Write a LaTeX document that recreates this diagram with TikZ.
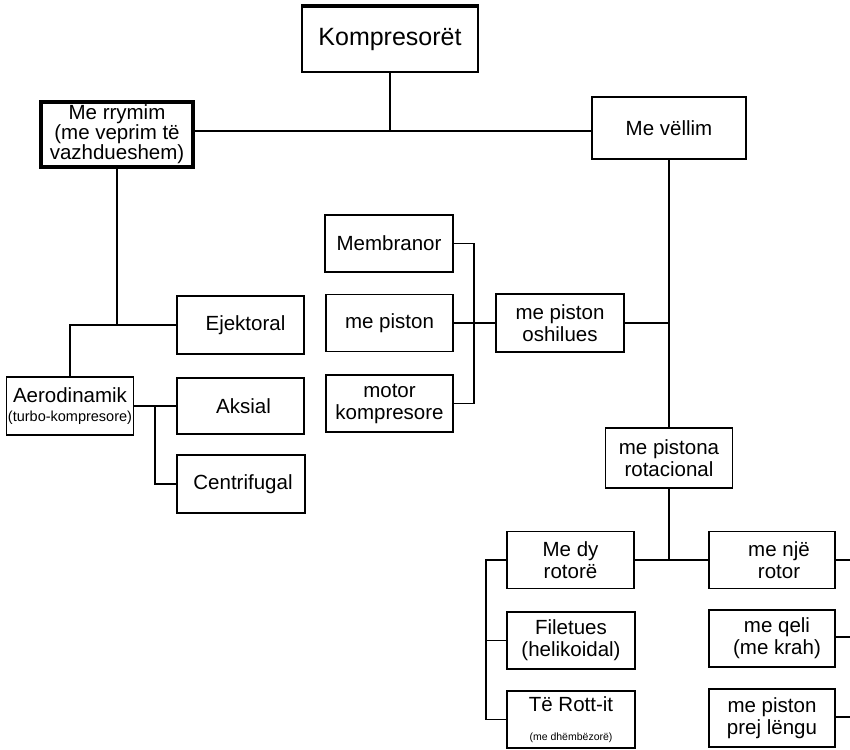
\documentclass[tikz,border=0pt]{standalone}
\usepackage{fontspec}
\setmainfont{Liberation Sans}
\begin{document}
\begin{tikzpicture}[x=1pt,y=-1pt,
  box/.style={draw,line width=1.5pt,inner sep=0pt,align=center,
    minimum width=127pt,minimum height=57pt,
    font=\fontsize{20.5}{22}\selectfont},
  conn/.style={line width=1.4pt}]
\useasboundingbox[fill=white] (0,0) rectangle (850,749);
% nodes
\node[box,line width=2pt,minimum width=176pt,minimum height=65pt,
  font=\fontsize{25}{28}\selectfont] (K) at (390,39.5) {Kompresorët};
\node[box,line width=3.4pt,minimum width=152pt,minimum height=65pt,
  font=\fontsize{20.5}{20}\selectfont] (R) at (117,134.5)
  {Me rrymim\\(me veprim të\\vazhdueshem)};
\node[box,minimum width=154pt,minimum height=62pt] (V) at (669,128) {Me vëllim};
\node[box,minimum height=58pt] (Ej) at (240.5,325) {\hspace*{10pt}Ejektoral};
\node[box,minimum height=58pt] (Aero) at (70,406)
  {Aerodinamik\\[-3pt]{\fontsize{14.5}{16}\selectfont(turbo-kompresore)}};
\node[box,minimum height=56pt] (Aks) at (240.5,406) {\hspace*{6pt}Aksial};
\node[box,minimum width=128pt,minimum height=58pt] (Cen) at (241,484) {\hspace*{4pt}Centrifugal};
\node[box,minimum width=128pt] (Mem) at (389,243.5) {Membranor};
\node[box] (MP) at (389.5,323) {me piston};
\node[box] (Mot) at (389.5,403.5) {motor\\kompresore};
\node[box,minimum width=128pt,minimum height=58pt] (Osh) at (560,323) {me piston\\oshilues};
\node[box,minimum height=60pt] (Rot) at (669,458) {me pistona\\rotacional};
\node[box] (Dy) at (570.5,560) {Me dy\\rotorë};
\node[box,minimum width=128pt] (Fil) at (571,640.5) {Filetues\\(helikoidal)};
\node[box,minimum width=128pt] (Rott) at (571,719.5)
  {Të Rott-it\\[7pt]{\fontsize{10.5}{12}\selectfont(me dhëmbëzorë)}};
\node[box,minimum width=126pt] (Nje) at (772,560) {\hspace*{14pt}me një\\\hspace*{14pt}rotor};
\node[box,minimum width=126pt] (Qeli) at (772,638.5) {\hspace*{10pt}me qeli\\\hspace*{10pt}(me krah)};
\node[box,minimum width=126pt,minimum height=58pt] (Leng) at (772,718) {me piston\\prej lëngu};
% heavier top edge of the root box
\draw[line width=3.4pt] (K.north west) -- (K.north east);
% junction and free-end coordinates
\coordinate (j1) at (391,131);
\coordinate (j3) at (155,406);
\coordinate (j4) at (474,323);
\coordinate (j5) at (486,560);
\coordinate (e1) at (850,560);
\coordinate (e2) at (850,637);
\coordinate (e3) at (850,717);
% connectors
\draw[conn] (K.south) -- (K.south |- j1);
\draw[conn] (R.east |- j1) -- (V.west |- j1);
\draw[conn] (R.south) -- (R.south |- Ej.west);
\draw[conn] (Aero.north) |- (Ej.west);
\draw[conn] (Aero.east) -- (Aks.west);
\draw[conn] (j3) |- (Cen.west);
\draw[conn] (Mem.east) -| (j4) |- (Mot.east);
\draw[conn] (MP.east) -- (Osh.west);
\draw[conn] (V.south) -- (Rot.north);
\draw[conn] (Osh.east) -- (Osh.east -| V.south);
\draw[conn] (Rot.south) -- (Rot.south |- Dy.east);
\draw[conn] (Dy.east) -- (Nje.west);
\draw[conn] (Dy.west) -- (j5) |- (Rott.west);
\draw[conn] (j5 |- Fil.west) -- (Fil.west);
\draw[conn] (Nje.east) -- (e1);
\draw[conn] (Qeli.east |- e2) -- (e2);
\draw[conn] (Leng.east |- e3) -- (e3);
\end{tikzpicture}
\end{document}
